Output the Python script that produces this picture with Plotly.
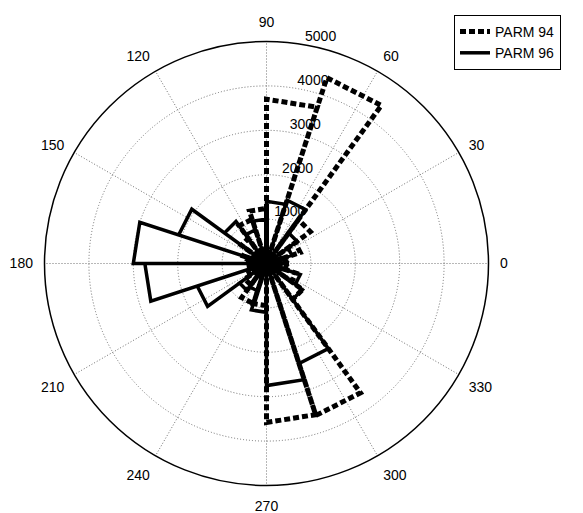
import plotly.graph_objects as go

# Rose histogram: 20 bins of 18 degrees, bin start angles
bin_start = [0, 18, 36, 54, 72, 90, 108, 126, 144, 162,
             180, 198, 216, 234, 252, 270, 288, 306, 324, 342]
bin_width = 18

parm94 = [450, 800, 1220, 4400, 3700, 1240, 1050, 700, 550, 450,
          400, 450, 600, 950, 950, 3580, 3600, 1000, 700, 450]
parm96 = [400, 600, 850, 1500, 1400, 1000, 800, 1170, 2080, 3000,
          2740, 1640, 750, 650, 1100, 2750, 2370, 1000, 800, 450]

radial_ticks = [1000, 2000, 3000, 4000, 5000]
radial_labels = ["1000", "2000", "3000", "4000", "5000"]
radial_label_angle = 80
angle_ticks = [0, 30, 60, 90, 120, 150, 180, 210, 240, 270, 300, 330]
angle_labels = [str(a) for a in angle_ticks]


def rose_path(values):
    th, rr = [], []
    for s, v in zip(bin_start, values):
        th += [s, s, s + bin_width, s + bin_width]
        rr += [0, v, v, 0]
    return th, rr


FONT = "Liberation Sans, Arial, sans-serif"
W, H = 583, 513
OFF = 8  # page body margin of the viewing page

fig = go.Figure()
t94, r94 = rose_path(parm94)
t96, r96 = rose_path(parm96)

fig.add_trace(go.Scatterpolar(
    theta=t94, r=r94, mode="lines", name="PARM 94",
    line=dict(color="black", width=5, dash="6px,3px"),
))
fig.add_trace(go.Scatterpolar(
    theta=t96, r=r96, mode="lines", name="PARM 96",
    line=dict(color="black", width=3.5),
))
fig.add_trace(go.Scatterpolar(
    theta=[radial_label_angle] * len(radial_ticks), r=radial_ticks,
    mode="text", text=radial_labels, textposition="top right",
    textfont=dict(family=FONT, size=14, color="black"),
    showlegend=False, hoverinfo="skip", cliponaxis=False,
))

fig.update_layout(
    width=W, height=H,
    margin=dict(l=0, r=0, t=0, b=0),
    paper_bgcolor="white",
    font=dict(family=FONT, size=14, color="black"),
    polar=dict(
        domain=dict(x=[(44.5 - OFF) / W, (488.5 - OFF) / W],
                    y=[1 - (485.5 - OFF) / H, 1 - (41.5 - OFF) / H]),
        bgcolor="white",
        radialaxis=dict(
            range=[0, 5000], tickvals=radial_ticks, showticklabels=False,
            ticks="", showline=False, gridcolor="#707070", griddash="1px,2px", gridwidth=1,
        ),
        angularaxis=dict(
            direction="counterclockwise", rotation=0,
            tickvals=angle_ticks, ticktext=angle_labels,
            ticks="outside", ticklen=8, tickcolor="rgba(0,0,0,0)",
            showline=True, linecolor="black", linewidth=1.5,
            gridcolor="#707070", griddash="1px,2px", gridwidth=1,
            tickfont=dict(family=FONT, size=14, color="black"),
        ),
    ),
    legend=dict(
        x=(454 - OFF) / W, y=1 - (15 - OFF) / H, xanchor="left", yanchor="top",
        bordercolor="black", borderwidth=1, bgcolor="white",
        font=dict(family=FONT, size=14, color="black"),
        itemwidth=30, tracegroupgap=0,
    ),
)

fig.write_html("out.html")
